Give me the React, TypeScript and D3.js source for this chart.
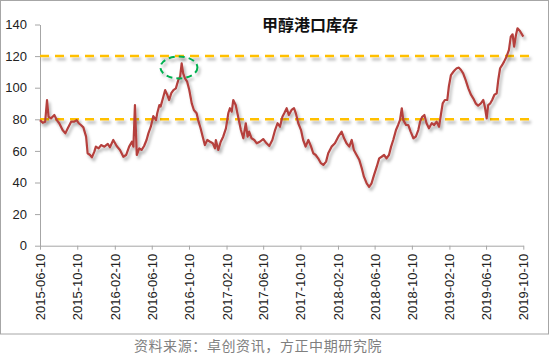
import React, { useEffect, useRef } from "react";
import * as d3 from "d3";

const title = "甲醇港口库存";
const source = "资料来源：卓创资讯，方正中期研究院";

// weekly-ish readings of the port inventory (万吨)
const dates = [
  "2015-06-10", "2015-06-19", "2015-06-27", "2015-07-03", "2015-07-08", "2015-07-16", "2015-07-27",
  "2015-08-04", "2015-08-12", "2015-08-23", "2015-09-01", "2015-09-09", "2015-09-20", "2015-09-30",
  "2015-10-08", "2015-10-15", "2015-10-22", "2015-10-30", "2015-11-08", "2015-11-13", "2015-11-21",
  "2015-11-27", "2015-12-05", "2015-12-10", "2015-12-19", "2015-12-27", "2016-01-07", "2016-01-18",
  "2016-01-25", "2016-02-05", "2016-02-16", "2016-02-27", "2016-03-09", "2016-03-18", "2016-03-28",
  "2016-04-06", "2016-04-11", "2016-04-16", "2016-04-22", "2016-04-30", "2016-05-08", "2016-05-16",
  "2016-05-24", "2016-05-30", "2016-06-07", "2016-06-15", "2016-06-24", "2016-06-28", "2016-07-05",
  "2016-07-09", "2016-07-18", "2016-07-24", "2016-07-31", "2016-08-06", "2016-08-13", "2016-08-20",
  "2016-08-28", "2016-09-05", "2016-09-11", "2016-09-16", "2016-09-21", "2016-09-27", "2016-10-04",
  "2016-10-11", "2016-10-19", "2016-10-26", "2016-11-04", "2016-11-09", "2016-11-17", "2016-11-24",
  "2016-12-01", "2016-12-09", "2016-12-18", "2016-12-27", "2017-01-03", "2017-01-06", "2017-01-14",
  "2017-01-22", "2017-01-30", "2017-02-08", "2017-02-16", "2017-02-21", "2017-02-27", "2017-03-04",
  "2017-03-12", "2017-03-20", "2017-03-29", "2017-04-06", "2017-04-14", "2017-04-20", "2017-04-25",
  "2017-05-03", "2017-05-12", "2017-05-20", "2017-05-30", "2017-06-10", "2017-06-21", "2017-06-30",
  "2017-07-10", "2017-07-19", "2017-07-27", "2017-08-04", "2017-08-12", "2017-08-18", "2017-08-26",
  "2017-09-02", "2017-09-11", "2017-09-19", "2017-09-25", "2017-10-03", "2017-10-12", "2017-10-19",
  "2017-10-27", "2017-11-05", "2017-11-14", "2017-11-21", "2017-11-29", "2017-12-07", "2017-12-16",
  "2017-12-24", "2018-01-02", "2018-01-09", "2018-01-20", "2018-01-31", "2018-02-11", "2018-02-22",
  "2018-03-02", "2018-03-10", "2018-03-19", "2018-03-27", "2018-04-03", "2018-04-12", "2018-04-21",
  "2018-04-29", "2018-05-06", "2018-05-15", "2018-05-23", "2018-05-31", "2018-06-08", "2018-06-17",
  "2018-06-25", "2018-07-03", "2018-07-11", "2018-07-19", "2018-07-27", "2018-08-03", "2018-08-10",
  "2018-08-19", "2018-08-26", "2018-09-01", "2018-09-07", "2018-09-12", "2018-09-21", "2018-09-28",
  "2018-10-06", "2018-10-15", "2018-10-23", "2018-10-31", "2018-11-06", "2018-11-13", "2018-11-20",
  "2018-11-27", "2018-12-05", "2018-12-14", "2018-12-22", "2018-12-30", "2019-01-07", "2019-01-13",
  "2019-01-19", "2019-01-26", "2019-02-03", "2019-02-08", "2019-02-15", "2019-02-23", "2019-02-28",
  "2019-03-06", "2019-03-13", "2019-03-20", "2019-03-27", "2019-04-04", "2019-04-13", "2019-04-22",
  "2019-04-29", "2019-05-07", "2019-05-15", "2019-05-24", "2019-06-01", "2019-06-06", "2019-06-12",
  "2019-06-17", "2019-06-24", "2019-06-30", "2019-07-07", "2019-07-15", "2019-07-20", "2019-07-26",
  "2019-08-02", "2019-08-08", "2019-08-16", "2019-08-24", "2019-08-30", "2019-09-05", "2019-09-10",
  "2019-09-16", "2019-09-21", "2019-09-29", "2019-10-10",
];

const stock = [
  79.5, 77.8, 78.5, 92.2, 81.6, 80.6, 82.7,
  79.5, 77.5, 73.2, 71.1, 74.3, 78.5, 78.5,
  79.5, 77.5, 76.4, 74.9, 69.0, 58.5, 57.4,
  55.9, 59.5, 62.7, 61.6, 63.7, 62.7, 64.4,
  62.3, 66.9, 63.1, 60.6, 56.3, 57.4, 62.7,
  65.8, 62.7, 89.0, 57.4, 61.6, 60.6, 63.1,
  66.9, 71.1, 75.3, 82.0, 79.5, 83.8, 89.0,
  88.0, 94.3, 98.5, 95.4, 92.2, 96.5, 98.5,
  99.6, 104.9, 107.0, 115.4, 109.1, 105.9, 103.8,
  98.5, 90.1, 85.9, 83.8, 79.5, 74.3, 69.0,
  63.7, 66.9, 65.8, 64.8, 61.6, 66.9, 60.6,
  65.8, 69.0, 74.3, 84.0, 87.0, 84.8, 92.2,
  89.0, 81.6, 73.2, 68.0, 77.5, 69.0, 72.2,
  68.0, 66.9, 64.8, 65.8, 67.5, 64.8, 63.1,
  66.9, 73.2, 77.5, 75.3, 81.6, 83.8, 87.0,
  82.7, 85.9, 87.0, 83.8, 77.5, 73.2, 66.9,
  62.7, 66.9, 62.7, 58.5, 57.4, 55.3, 52.2,
  51.1, 53.2, 58.5, 62.7, 64.8, 69.0, 72.2,
  68.0, 64.8, 62.7, 66.9, 60.6, 57.4, 54.2,
  49.0, 43.7, 39.5, 37.3, 39.5, 44.7, 50.0,
  55.3, 56.3, 57.4, 55.3, 57.4, 62.7, 66.9,
  73.2, 76.4, 79.5, 87.0, 79.5, 76.4, 76.4,
  72.2, 68.0, 69.0, 73.2, 78.5, 81.6, 82.7,
  77.5, 74.3, 77.5, 76.4, 78.5, 75.3, 82.7,
  90.1, 92.2, 92.2, 100.6, 108.0, 110.1, 111.2,
  112.3, 112.7, 111.2, 109.1, 104.9, 99.6, 95.4,
  93.3, 90.1, 88.6, 90.1, 92.2, 88.0, 80.6,
  89.0, 90.1, 92.2, 95.4, 96.5, 104.9, 112.3,
  114.4, 116.5, 119.6, 123.9, 132.3, 133.8, 126.0,
  133.4, 137.6, 135.9, 132.3,
];

const xTicks = [
  "2015-06-10", "2015-10-10", "2016-02-10", "2016-06-10", "2016-10-10", "2017-02-10", "2017-06-10",
  "2017-10-10", "2018-02-10", "2018-06-10", "2018-10-10", "2019-02-10", "2019-06-10", "2019-10-10",
];
const yTicks = [0, 20, 40, 60, 80, 100, 120, 140];
const bands = [120, 80];
// circled peak (centre of the ellipse)
const markDate = "2016-09-07";
const markValue = 112.8;

const W = 550;
const H = 354;

const App = () => {
  const ref = useRef<SVGSVGElement>(null);

  useEffect(() => {
    const parse = d3.timeParse("%Y-%m-%d");
    const data = dates.map((d, i) => ({ date: parse(d) as Date, value: stock[i] }));

    const svg = d3.select(ref.current);
    svg.selectAll("*").remove();

    const x = d3.scaleTime()
      .domain([parse(xTicks[0]) as Date, parse(xTicks[xTicks.length - 1]) as Date])
      .range([40, 523.3]);

    const y = d3.scaleLinear()
      .domain([0, 140])
      .range([245.7, 24.5]);

    const defs = svg.append("defs");
    const f = defs.append("filter")
      .attr("id", "shadow")
      .attr("filterUnits", "userSpaceOnUse")
      .attr("x", 0).attr("y", 0).attr("width", W).attr("height", H);
    f.append("feDropShadow")
      .attr("dx", 2).attr("dy", 3)
      .attr("stdDeviation", 1.6)
      .attr("flood-color", "#000")
      .attr("flood-opacity", 0.3);

    svg.append("rect")
      .attr("width", W).attr("height", H)
      .attr("fill", "#fff");

    // chart frame
    svg.append("rect")
      .attr("x", 0.5).attr("y", 0.5)
      .attr("width", 548).attr("height", 333.5)
      .attr("fill", "none")
      .attr("stroke", "#a6a6a6");

    svg.append("text")
      .attr("x", 310).attr("y", 31)
      .attr("text-anchor", "middle")
      .attr("font-family", "'Noto Sans CJK SC', sans-serif")
      .attr("font-weight", "bold")
      .attr("font-size", 16)
      .attr("fill", "#111")
      .text(title);

    // y axis
    const ya = svg.append("g")
      .attr("transform", "translate(40,0)")
      .call(d3.axisLeft(y).tickValues(yTicks).tickSize(5).tickSizeOuter(0));
    ya.select(".domain").attr("stroke", "#a6a6a6");
    ya.selectAll(".tick line").attr("stroke", "#a6a6a6");
    ya.selectAll("text")
      .attr("x", -13)
      .attr("font-family", "'Liberation Sans', Arial, sans-serif")
      .attr("font-size", 13)
      .attr("fill", "#222");

    // x axis
    const xa = svg.append("g")
      .attr("transform", `translate(0,${y(0)})`)
      .call(d3.axisBottom(x)
        .tickValues(xTicks.map(t => parse(t) as Date))
        .tickFormat(d3.timeFormat("%Y-%m-%d") as any)
        .tickSize(4)
        .tickSizeOuter(0));
    xa.select(".domain").attr("stroke", "#a6a6a6");
    xa.selectAll(".tick line").attr("stroke", "#a6a6a6");
    xa.selectAll("text")
      .attr("transform", "rotate(-90)")
      .attr("x", -8)
      .attr("y", 0)
      .attr("dy", "0.35em")
      .style("text-anchor", "end")
      .attr("font-family", "'Liberation Sans', Arial, sans-serif")
      .attr("font-size", 13)
      .attr("fill", "#222");

    // 120 / 80 reference lines
    svg.append("g")
      .attr("filter", "url(#shadow)")
      .selectAll("line")
      .data(bands)
      .enter().append("line")
      .attr("x1", 40).attr("x2", 529)
      .attr("y1", d => y(d)).attr("y2", d => y(d))
      .attr("stroke", "#ffc000")
      .attr("stroke-width", 2.5)
      .attr("stroke-dasharray", "9,6");

    const line = d3.line<{ date: Date; value: number }>()
      .x(d => x(d.date))
      .y(d => y(d.value));

    svg.append("path")
      .datum(data)
      .attr("d", line)
      .attr("fill", "none")
      .attr("stroke", "#b5403d")
      .attr("stroke-width", 2.2)
      .attr("stroke-linejoin", "round")
      .attr("filter", "url(#shadow)");

    // dashed green ellipse around the 2016 peak
    svg.append("ellipse")
      .attr("cx", x(parse(markDate) as Date))
      .attr("cy", y(markValue))
      .attr("rx", 18.5).attr("ry", 11)
      .attr("fill", "none")
      .attr("stroke", "#00b050")
      .attr("stroke-width", 2)
      .attr("stroke-dasharray", "6,4")
      .attr("filter", "url(#shadow)");

    svg.append("text")
      .attr("x", 258).attr("y", 351)
      .attr("text-anchor", "middle")
      .attr("font-family", "'Noto Sans CJK SC', sans-serif")
      .attr("font-size", 14)
      .attr("letter-spacing", 0.6)
      .attr("fill", "#7f7f7f")
      .text(source);
  }, []);

  return (
    <svg ref={ref} width={W} height={H}
      style={{ position: "absolute", left: 0, top: 0, display: "block" }} />
  );
};

export default App;
